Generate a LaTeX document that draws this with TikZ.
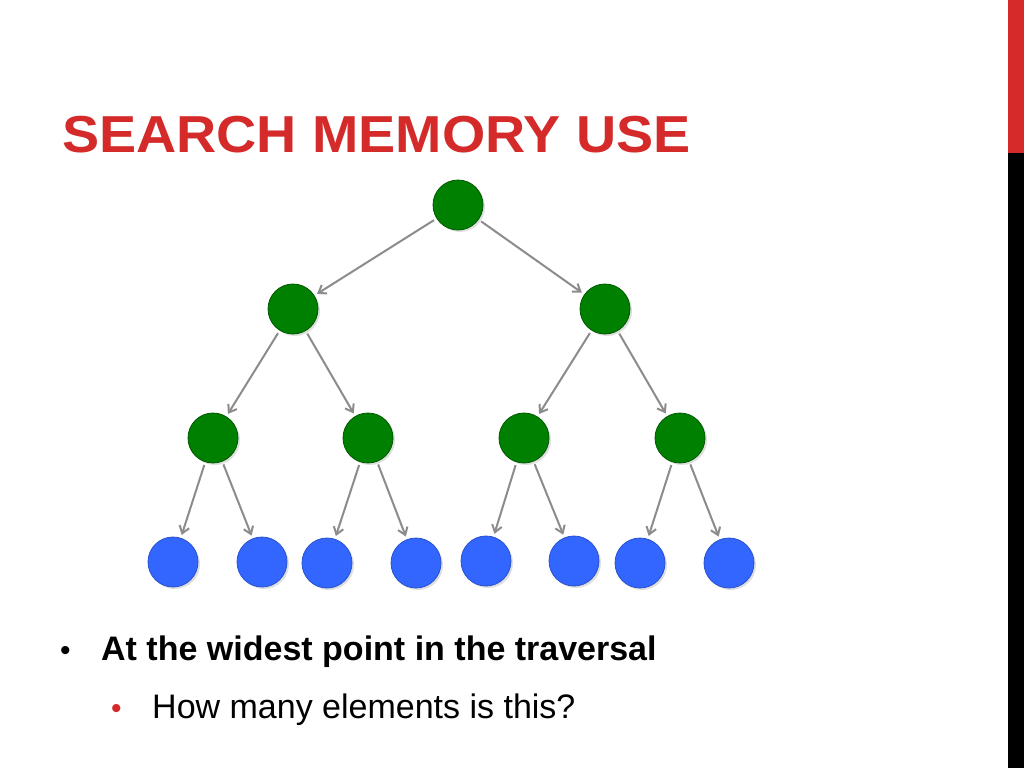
\documentclass[tikz,border=0pt]{standalone}
\usepackage{fontspec}
\setmainfont{Liberation Sans}
\usetikzlibrary{arrows.meta,shadows}
\definecolor{tred}{RGB}{213,42,42}
\definecolor{tgreen}{RGB}{0,128,0}
\definecolor{tblue}{RGB}{51,102,255}
\begin{document}
\begin{tikzpicture}[x=1pt,y=-1pt,
  inner/.style={circle,minimum size=50pt,inner sep=0pt,fill=tgreen,draw=tgreen!70!black,line width=0.8pt,drop shadow={opacity=0.25,shadow xshift=2pt,shadow yshift=-2pt}},
  leaf/.style={circle,minimum size=50pt,inner sep=0pt,fill=tblue,draw=tblue!80!black,line width=0.8pt,drop shadow={opacity=0.25,shadow xshift=2pt,shadow yshift=-2pt}},
  edge/.style={draw=gray!90,line width=2pt,-{Straight Barb[length=7pt,width=10pt]},shorten >=3pt,shorten <=3pt}]
\useasboundingbox (0,0) rectangle (1024,768);
\fill[white] (0,0) rectangle (1024,768);
\fill[tred] (1008,0) rectangle (1024,153);
\fill[black] (1008,153) rectangle (1024,768);
\node[anchor=base west,inner sep=0pt,text=tred,font=\fontsize{52}{56}\selectfont\bfseries] (title) at (62,152) {\scalebox{1.07}[1]{SEARCH MEMORY USE}};
\node[inner] (r) at (458,205) {};
\node[inner] (a) at (293,309) {};
\node[inner] (b) at (605,309) {};
\node[inner] (a1) at (213,438) {};
\node[inner] (a2) at (368,438) {};
\node[inner] (b1) at (524,438) {};
\node[inner] (b2) at (680,438) {};
\node[leaf] (l1) at (173,562) {};
\node[leaf] (l2) at (262,562) {};
\node[leaf] (l3) at (327,563) {};
\node[leaf] (l4) at (416,563) {};
\node[leaf] (l5) at (486,561) {};
\node[leaf] (l6) at (574,561) {};
\node[leaf] (l7) at (640,563) {};
\node[leaf] (l8) at (729,563) {};
\foreach \p/\c in {r/a,r/b,a/a1,a/a2,b/b1,b/b2,a1/l1,a1/l2,a2/l3,a2/l4,b1/l5,b1/l6,b2/l7,b2/l8}
  \draw[edge] (\p) -- (\c);
\node[anchor=base west,inner sep=0pt,font=\fontsize{30}{32}\selectfont] (bu1) at (60,660) {•};
\node[anchor=base west,inner sep=0pt,font=\fontsize{34}{36}\selectfont\bfseries] (t1) at (101,660) {At the widest point in the traversal};
\node[anchor=base west,inner sep=0pt,text=tred,font=\fontsize{30}{32}\selectfont] (bu2) at (111,718) {•};
\node[anchor=base west,inner sep=0pt,font=\fontsize{34}{36}\selectfont] (t2) at (152,718) {How many elements is this?};
\end{tikzpicture}
\end{document}
